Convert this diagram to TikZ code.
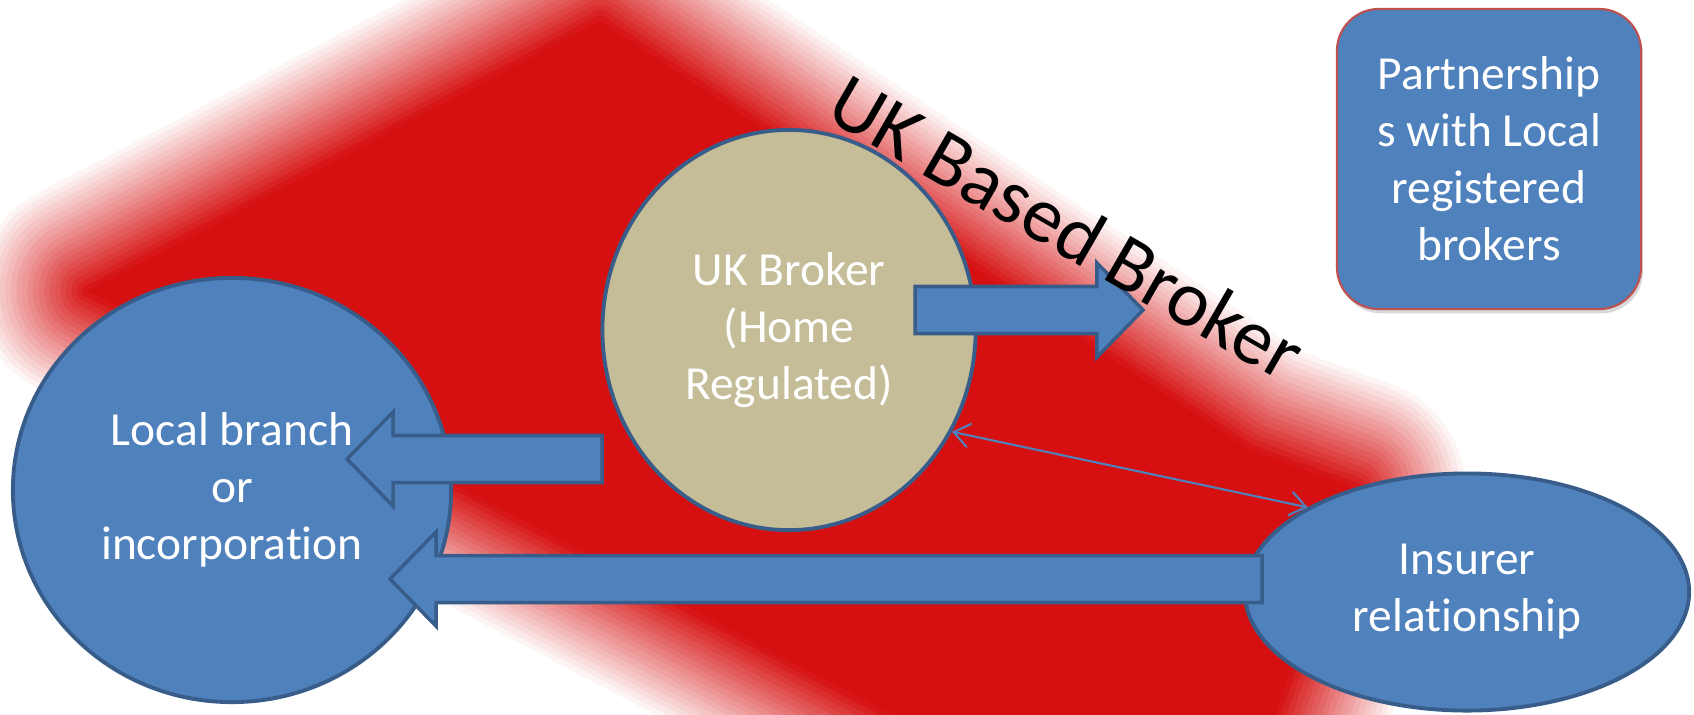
\documentclass[tikz,border=0pt]{standalone}
\usepackage{fontspec}
\setmainfont{Carlito}[Ligatures=NoCommon]
\usetikzlibrary{shapes.geometric,arrows.meta,calc,shadows}

\definecolor{bandred}{RGB}{214,16,16}
\definecolor{shapeblue}{RGB}{79,129,189}
\definecolor{edgeblue}{RGB}{56,93,138}
\definecolor{brokertan}{RGB}{196,189,151}
\definecolor{boxred}{RGB}{192,80,77}

% block arrow from #1 to #2 (named coordinates)
\newcommand{\blockarrow}[2]{%
  \coordinate (hb) at ($(#2)!0.46cm!(#1)$);
  \draw[blockarrow]
    ($(#1)!0.235cm!90:(#2)$) -- ($(hb)!0.235cm!90:(#2)$)
    -- ($(hb)!0.47cm!90:(#2)$) -- (#2)
    -- ($(hb)!0.47cm!-90:(#2)$) -- ($(hb)!0.235cm!-90:(#2)$)
    -- ($(#1)!0.235cm!-90:(#2)$) -- cycle;
}

\begin{document}
\begin{tikzpicture}[x=0.01cm, y=-0.01cm,
    bubble/.style={ellipse, draw=edgeblue, line width=1.1pt, text=white,
      align=center, inner sep=0pt, font=\fontsize{13.5}{16.2}\selectfont},
    blockarrow/.style={fill=shapeblue, draw=edgeblue, line width=1pt},
    linkarrow/.style={shapeblue, line width=0.6pt, <->,
      >={Straight Barb[length=1.6mm, width=2.4mm]}}]
  \useasboundingbox (0,0) rectangle (1694,714);

  % Red band (soft edges)
  \def\bandpath{(88,291) -- (600,21) -- (1120,364) -- (1250,450)
    -- (1355,488) -- (1275,714) -- (1205,880) -- cycle}
  \foreach \i [evaluate=\i as \op using 1/(\i+0.5),
               evaluate=\i as \lw using 1.1*\i] in {1,...,20}
    \draw[bandred, opacity=\op, line width=\lw mm, line join=round] \bandpath;
  \fill[bandred] \bandpath;

  % Parties
  \node[bubble, fill=shapeblue, minimum width=4.38cm, minimum height=4.24cm]
    (local) at (232,490) {Local branch\\or\\incorporation};
  \node[bubble, fill=brokertan, minimum width=3.73cm, minimum height=4cm]
    (broker) at (789,330) {UK Broker\\(Home\\Regulated)};
  \node[bubble, fill=shapeblue, minimum width=4.44cm, minimum height=2.37cm]
    (insurer) at (1467,592) {Insurer\\relationship};
  \node[rounded corners=0.42cm, fill=shapeblue, draw=boxred, line width=0.6pt,
        text=white, align=center, font=\fontsize{13.5}{16.2}\selectfont,
        minimum width=3.04cm, minimum height=3cm,
        drop shadow={opacity=0.3, shadow xshift=0.6pt, shadow yshift=-1.2pt}]
    (partner) at (1489,159) {Partnership\\s with Local\\registered\\brokers};

  % Block arrows
  \coordinate (outStart) at (915,310);
  \coordinate (outTip) at (1143,310);
  \coordinate (branchStart) at (602,459);
  \coordinate (branchTip) at (347,459);
  \coordinate (insStart) at (1262,579);
  \coordinate (insTip) at (390,579);
  \blockarrow{outStart}{outTip}
  \blockarrow{branchStart}{branchTip}
  \blockarrow{insStart}{insTip}

  % Link broker - insurer
  \draw[linkarrow] (broker.-32) -- (insurer.152);

  % Title along the band
  \node[rotate=-30, font=\fontsize{22.5}{27}\selectfont] (title) at (1067,227)
    {UK Based Broker};
\end{tikzpicture}
\end{document}
